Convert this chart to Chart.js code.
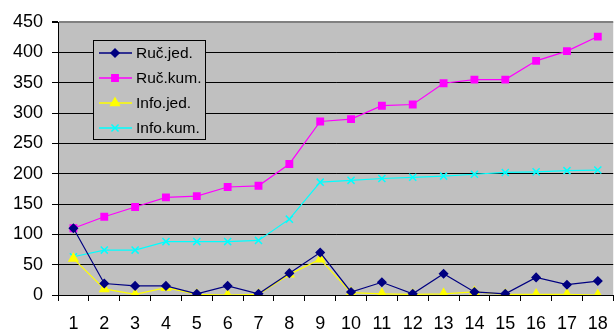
<!DOCTYPE html>
<html>
<head>
<meta charset="utf-8">
<script src="https://cdn.jsdelivr.net/npm/chart.js@4"></script>
<style>
  html, body { margin: 0; padding: 0; background: #fff; overflow: hidden; }
</style>
</head>
<body>
<canvas id="chart" width="620" height="332"></canvas>
<script>
const categories = ['1','2','3','4','5','6','7','8','9','10','11','12','13','14','15','16','17','18']
const rucJed = [110, 19, 15, 15, 2, 15, 2, 36, 70, 5, 21, 2, 35, 5, 2, 29, 17, 23]
const rucKum = [110, 129, 145, 161, 163, 178, 180, 216, 286, 290, 312, 314, 349, 355, 355, 386, 402, 426]
const infoJed = [60, 10, 1, 12, 1, 0, 1, 34, 59, 4, 2, 1, 2, 5, 1, 1, 1, 0]
const infoKum = [63, 74, 74, 88, 88, 88, 90, 125, 186, 189, 192, 194, 196, 199, 202, 203, 205, 206]

const font = "'Liberation Sans', Arial, sans-serif"

// legend box drawn inside the plot, like the original
const boxLegend = {
    id: 'boxLegend',
    afterDraw(chart) {
        const ctx = chart.ctx
        const x0 = 93, y0 = 40, w = 112, h = 99
        ctx.save()
        ctx.fillStyle = '#C0C0C0'
        ctx.fillRect(x0, y0, w, h)
        ctx.strokeStyle = '#000'
        ctx.lineWidth = 1
        ctx.strokeRect(x0 + 0.5, y0 + 0.5, w, h)
        chart.data.datasets.forEach((ds, i) => {
            const y = 53 + i * 25
            ctx.strokeStyle = ds.borderColor
            ctx.lineWidth = 1.5
            ctx.beginPath()
            ctx.moveTo(99, y)
            ctx.lineTo(132, y)
            ctx.stroke()
            ctx.fillStyle = ds.borderColor
            ctx.strokeStyle = ds.borderColor
            ctx.lineWidth = 1.5
            Chart.helpers.drawPoint(ctx, {
                pointStyle: ds.pointStyle,
                radius: ds.pointRadius,
                borderWidth: 1.5,
                rotation: 0
            }, 115, y)
            ctx.fillStyle = '#000'
            ctx.font = '15.5px ' + font
            ctx.textBaseline = 'middle'
            ctx.fillText(ds.label, 136, y + 1)
        })
        ctx.restore()
    }
}

const bgPlot = {
    id: 'bgPlot',
    beforeDraw(chart) {
        const a = chart.chartArea
        chart.ctx.save()
        chart.ctx.fillStyle = '#C0C0C0'
        chart.ctx.fillRect(a.left, a.top, a.right - a.left, a.bottom - a.top)
        chart.ctx.restore()
    }
}

function series(label, data, color, style, r) {
    return {
        label: label,
        data: data,
        borderColor: color,
        backgroundColor: color,
        pointBackgroundColor: color,
        pointBorderColor: color,
        pointStyle: style,
        pointRadius: r,
        pointBorderWidth: 1.5,
        borderWidth: 1.2,
        tension: 0
    }
}

new Chart(document.getElementById('chart'), {
    type: 'line',
    data: {
        labels: categories,
        datasets: [
            series('Ruč.jed.', rucJed, '#000080', 'rectRot', 4),
            series('Ruč.kum.', rucKum, '#FF00FF', 'rect', 4.5),
            series('Info.jed.', infoJed, '#FFFF00', 'triangle', 5),
            series('Info.kum.', infoKum, '#00FFFF', 'crossRot', 5)
        ]
    },
    options: {
        responsive: false,
        animation: false,
        layout: { padding: { top: 22, right: 0, left: 0, bottom: 0 } },
        plugins: { legend: { display: false }, tooltip: { enabled: false } },
        scales: {
            x: {
                offset: true,
                grid: { offset: true, drawOnChartArea: false, drawTicks: true, tickLength: 6, color: '#000' },
                border: { color: '#000', width: 1 },
                ticks: { color: '#000', font: { family: font, size: 18 }, padding: 12, maxRotation: 0, autoSkip: false },
                afterFit(s) { s.height = 37 }
            },
            y: {
                min: 0,
                max: 450,
                ticks: { stepSize: 50, color: '#000', font: { family: font, size: 18 }, padding: 9 },
                grid: {
                    color: c => c.tick && c.tick.value === 450 ? '#808080' : '#000',
                    lineWidth: c => c.tick && c.tick.value === 450 ? 2 : 1,
                    tickLength: 6,
                    tickColor: '#000'
                },
                border: { color: '#000', width: 1 },
                afterFit(s) { s.width = 58 }
            }
        }
    },
    plugins: [bgPlot, boxLegend]
})
</script>
</body>
</html>
